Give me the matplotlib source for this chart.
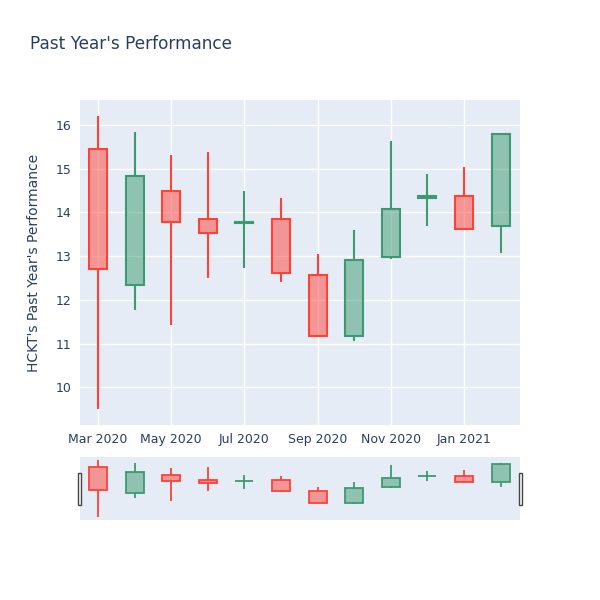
import matplotlib
matplotlib.use("Agg")
import matplotlib.pyplot as plt
import matplotlib.dates as mdates
from matplotlib.patches import Rectangle
import numpy as np
import datetime as dt

dates = ["2020-03-01", "2020-04-01", "2020-05-01", "2020-06-01", "2020-07-01", "2020-08-01",
         "2020-09-01", "2020-10-01", "2020-11-01", "2020-12-01", "2021-01-01", "2021-02-01"]
opens = [15.44, 12.34, 14.50, 13.84, 13.75, 13.86, 12.56, 11.18, 12.99, 14.32, 14.37, 13.68]
highs = [16.21, 15.83, 15.31, 15.37, 14.50, 14.33, 13.05, 13.59, 15.63, 14.88, 15.03, 15.82]
lows = [9.50, 11.77, 11.43, 12.51, 12.74, 12.42, 11.17, 11.05, 12.93, 13.70, 13.61, 13.07]
closes = [12.71, 14.83, 13.78, 13.53, 13.79, 12.61, 11.17, 12.91, 14.08, 14.37, 13.63, 15.80]

title = "Past Year's Performance"
ylabel = "HCKT's Past Year's Performance"

INC = "#3D9970"
DEC = "#FF4136"
BG = "#E5ECF6"
TXT = "#2a3f5f"

xd = [mdates.date2num(dt.datetime.strptime(d, "%Y-%m-%d")) for d in dates]

fig = plt.figure(figsize=(6, 6), dpi=100)
W, H = 600, 600

def px_axes(x0, y0, x1, y1):
    return fig.add_axes([x0 / W, 1 - y1 / H, (x1 - x0) / W, (y1 - y0) / H])

xmin = mdates.date2num(dt.datetime(2020, 2, 15))
xmax = mdates.date2num(dt.datetime(2021, 2, 17))
ylo, yhi = 9.14, 16.57
bw = 15.0

def draw(ax, lw_body, lw_wick):
    for x, o, h, l, c in zip(xd, opens, highs, lows, closes):
        col = INC if c >= o else DEC
        top, bot = max(o, c), min(o, c)
        ax.plot([x, x], [top, h], color=col, lw=lw_wick, solid_capstyle="butt", zorder=3)
        ax.plot([x, x], [l, bot], color=col, lw=lw_wick, solid_capstyle="butt", zorder=3)
        ax.add_patch(Rectangle((x - bw / 2, bot), bw, max(top - bot, 0.001),
                               facecolor=col, alpha=0.5, edgecolor="none", zorder=3))
        ax.add_patch(Rectangle((x - bw / 2, bot), bw, max(top - bot, 0.001),
                               facecolor="none", edgecolor=col, lw=lw_body, zorder=4))

ax = px_axes(80, 100, 520, 425)
ax.set_facecolor(BG)
draw(ax, 1.5, 1.5)
ax.set_xlim(xmin, xmax)
ax.set_ylim(ylo, yhi)
for s in ax.spines.values():
    s.set_visible(False)
ax.set_yticks(range(10, 17))
ax.xaxis.set_major_locator(mdates.MonthLocator(bymonth=[1, 3, 5, 7, 9, 11]))
ax.xaxis.set_major_formatter(mdates.DateFormatter("%b %Y"))
ax.grid(True, color="white", lw=1)
ax.set_axisbelow(True)
ax.tick_params(length=0, labelsize=9, colors=TXT, pad=6)
ax.set_ylabel(ylabel, fontsize=10, color=TXT, labelpad=11)

fig.text(30 / W, 1 - 44 / H, title, fontsize=12.2, color=TXT, va="center", ha="left")

sl = px_axes(80, 457, 520, 520)
sl.set_facecolor(BG)
draw(sl, 1.3, 1.3)
sl.set_xlim(xmin, xmax)
sl.set_ylim(ylo, yhi)
sl.set_xticks([])
sl.set_yticks([])
for s in sl.spines.values():
    s.set_visible(False)

for x0 in (77.5, 518.5):
    fig.patches.append(Rectangle((x0 / W, 1 - 505 / H), 3.5 / W, 32 / H,
                                 transform=fig.transFigure, facecolor="white",
                                 edgecolor="#444444", lw=1, zorder=10))

fig.savefig("out.png", dpi=100)
